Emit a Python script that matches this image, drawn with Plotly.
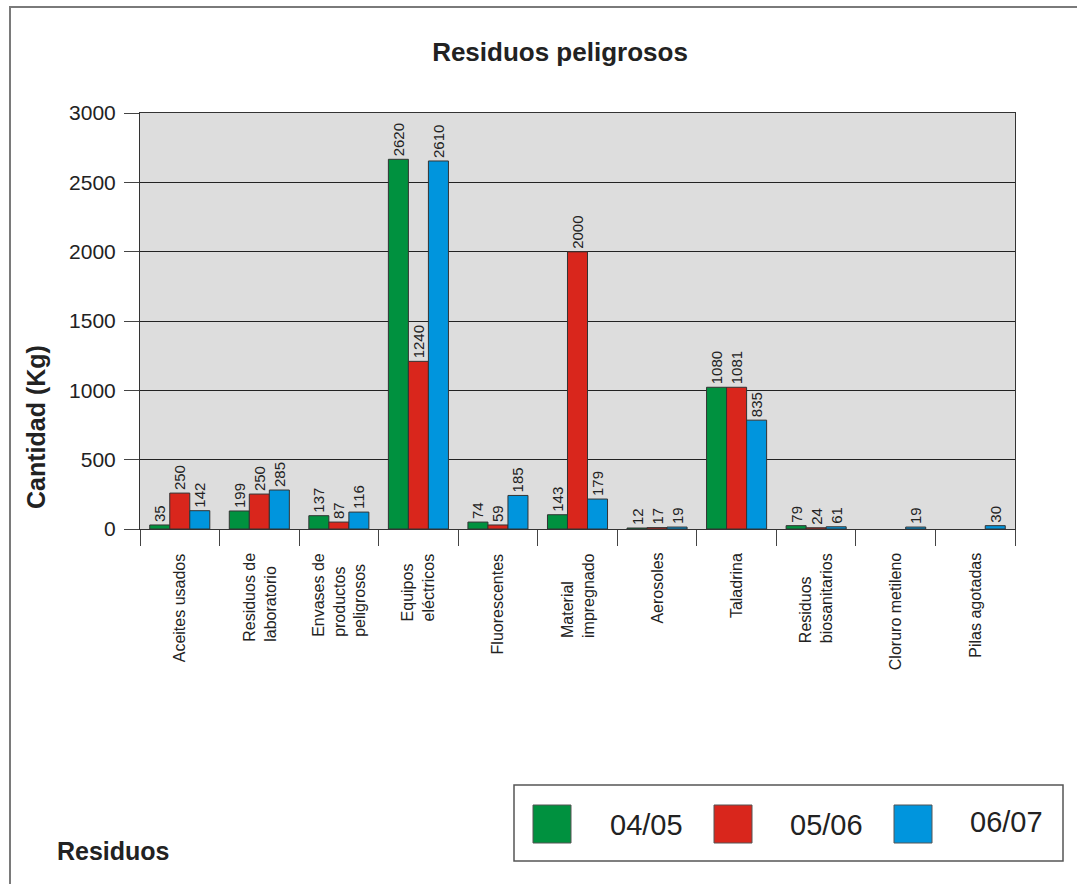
import plotly.graph_objects as go

# ---------------- data ----------------
categories = [
    "Aceites usados",
    "Residuos de<br>laboratorio",
    "Envases de<br>productos<br>peligrosos",
    "Equipos<br>eléctricos",
    "Fluorescentes",
    "Material<br>impregnado",
    "Aerosoles",
    "Taladrina",
    "Residuos<br>biosanitarios",
    "Cloruro metileno",
    "Pilas agotadas",
]
series_names = ["04/05", "05/06", "06/07"]

# bar heights as drawn in the picture (kg); None = no bar
h_0405 = [29, 130, 96, 2666, 50, 103, 7, 1022, 24, None, None]
h_0506 = [259, 252, 50, 1209, 29, 1999, 10, 1022, 9, None, None]
h_0607 = [132, 281, 122, 2654, 242, 216, 14, 785, 16, 14, 24]

# value labels printed above the bars
lab_0405 = ["35", "199", "137", "2620", "74", "143", "12", "1080", "79", "", ""]
lab_0506 = ["250", "250", "87", "1240", "59", "2000", "17", "1081", "24", "", ""]
lab_0607 = ["142", "285", "116", "2610", "185", "179", "19", "835", "61", "19", "30"]

y_ticks = [0, 500, 1000, 1500, 2000, 2500, 3000]

colors = ["#00913F", "#D9261C", "#0095DD"]

FONT = "Liberation Sans, Arial, Helvetica, sans-serif"
W, H = 1077, 884
L, R, T, B = 140, 62, 113, 355
PW, PH = W - L - R, H - T - B


def xp(px):
    return (px - L) / PW


def yp(py):
    return (H - B - py) / PH


fig = go.Figure()
for name, hv, lab, col in zip(series_names, [h_0405, h_0506, h_0607],
                              [lab_0405, lab_0506, lab_0607], colors):
    fig.add_trace(go.Bar(
        x=categories, y=hv, name=name,
        marker=dict(color=col, line=dict(color="#333333", width=1)),
        text=lab, textposition="outside", textangle=-90,
        textfont=dict(family=FONT, size=15, color="#222222"),
        constraintext="none", cliponaxis=False,
        showlegend=False,
    ))

annotations = []
# category labels (rotated, start aligned)
for c in categories:
    annotations.append(dict(
        x=c, xref="x", y=0, yref="paper", yanchor="top", xanchor="center",
        yshift=-22, text=c, showarrow=False, textangle=-90, align="left",
        font=dict(family=FONT, size=16, color="#222222"),
    ))

# y axis title
annotations.append(dict(
    x=xp(36), y=yp(427), xref="paper", yref="paper",
    xanchor="center", yanchor="middle",
    text="<b>Cantidad (Kg)</b>", textangle=-90, showarrow=False,
    font=dict(family=FONT, size=25, color="#222222"),
))
# x axis title
annotations.append(dict(
    x=xp(113), y=yp(851), xref="paper", yref="paper",
    xanchor="center", yanchor="middle",
    text="<b>Residuos</b>", showarrow=False,
    font=dict(family=FONT, size=25, color="#222222"),
))

shapes = []
# outer border
shapes.append(dict(type="rect", xref="paper", yref="paper",
                   x0=xp(10), x1=xp(1090), y0=yp(7), y1=yp(900),
                   line=dict(color="#7a7a7a", width=2), layer="below"))
# legend box
shapes.append(dict(type="rect", xref="paper", yref="paper",
                   x0=xp(514), x1=xp(1063), y0=yp(785), y1=yp(861),
                   line=dict(color="#555555", width=1.5), fillcolor="white"))
sw_x = [533, 714, 894]
tx_x = [646, 826, 1006]
tx_y = [825, 825, 822]
for i, name in enumerate(series_names):
    shapes.append(dict(type="rect", xref="paper", yref="paper",
                       x0=xp(sw_x[i]), x1=xp(sw_x[i] + 38),
                       y0=yp(805), y1=yp(843),
                       line=dict(color="#555555", width=1),
                       fillcolor=colors[i]))
    annotations.append(dict(
        x=xp(tx_x[i]), y=yp(tx_y[i]), xref="paper", yref="paper",
        xanchor="center", yanchor="middle",
        text=name, showarrow=False,
        font=dict(family=FONT, size=29, color="#222222"),
    ))

fig.update_layout(
    width=W, height=H,
    margin=dict(l=L, r=R, t=T, b=B),
    paper_bgcolor="white",
    plot_bgcolor="#DDDDDD",
    barmode="group",
    bargap=0.245,
    bargroupgap=0,
    title=dict(text="<b>Residuos peligrosos</b>", x=560 / W, xref="container",
               xanchor="center", y=1 - 52 / H, yref="container", yanchor="middle",
               font=dict(family=FONT, size=26, color="#222222")),
    font=dict(family=FONT, color="#222222"),
    annotations=annotations,
    shapes=shapes,
    showlegend=False,
)
fig.update_xaxes(
    type="category", showticklabels=False, ticks="outside", tickson="boundaries",
    ticklen=16, tickcolor="#444444", tickwidth=1,
    showline=True, linecolor="#333333", linewidth=1, mirror=True,
    showgrid=False,
)
fig.update_yaxes(
    range=[0, 3000], tickvals=y_ticks, ticktext=[str(v) for v in y_ticks],
    ticks="outside", ticklen=15, tickcolor="#444444", tickwidth=1,
    ticklabelstandoff=4,
    tickfont=dict(family=FONT, size=21, color="#222222"),
    showgrid=True, gridcolor="#222222", gridwidth=1,
    showline=True, linecolor="#333333", linewidth=1, mirror=True,
    zeroline=False,
)

fig.write_html("out.html")
